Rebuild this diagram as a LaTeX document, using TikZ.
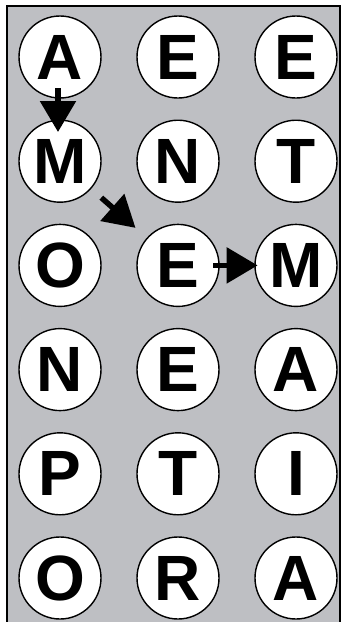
\documentclass[tikz,border=0pt]{standalone}
\usepackage{fontspec}
\setmainfont{Liberation Sans}
\usetikzlibrary{arrows.meta, calc}
\definecolor{panelgray}{RGB}{190,191,195}

\begin{document}
\begin{tikzpicture}[
    x=1pt, y=-1pt,
    letter/.style={circle, draw, line width=1.4pt, fill=white, minimum size=82pt, inner sep=0pt, font=\fontsize{64}{64}\selectfont\bfseries},
    arr/.style={-{Triangle[length=31pt, width=35pt]}, line width=5.5pt},
]
    % Panel
    \useasboundingbox (0,0) rectangle (344,622);
    \fill[panelgray] (7,6) rectangle (340,622);
    \draw[line width=1.2pt] (7,622) -- (7,6) -- (340,6) -- (340,622);

    % Letter grid, one column at a time
    \foreach \col/\x/\letters in {1/60/{A,M,O,N,P,O}, 2/178/{E,N,E,E,T,R}, 3/296/{E,T,M,A,I,A}} {
        \foreach \ch [count=\row] in \letters {
            \node[letter] (c\col-\row) at (\x, {57+104.2*(\row-1)}) {\ch};
        }
    }

    % Path A -> M -> E -> M
    \draw[arr] ($(c1-1)!0.3!(c1-2) + (-2,0)$) -- ($(c1-1)!0.72!(c1-2) + (-2,0)$);
    \draw[arr] ($(c1-2)!0.35!(c2-3)$) -- ($(c1-2)!0.64!(c2-3)$);
    \draw[arr] ($(c2-3)!0.3!(c3-3)$) -- ($(c2-3)!0.675!(c3-3)$);
\end{tikzpicture}
\end{document}
